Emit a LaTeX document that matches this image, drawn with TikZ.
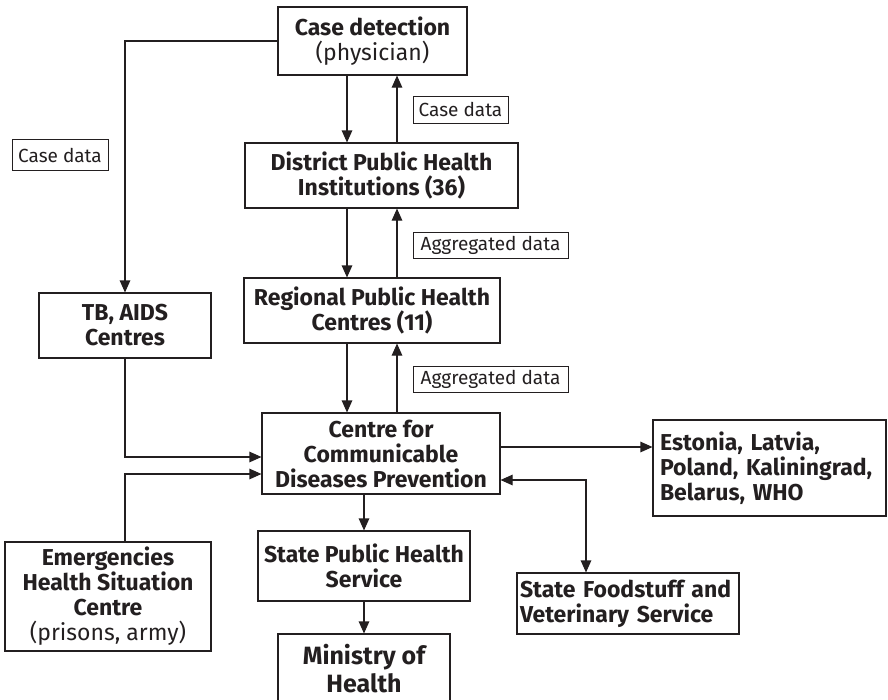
\documentclass[tikz,border=0pt]{standalone}
\usepackage{fontspec}
\setmainfont{Fira Sans}
\usetikzlibrary{arrows.meta}
\definecolor{ink}{HTML}{231F20}

\begin{document}
\begin{tikzpicture}[x=1pt,y=-1pt,
    box/.style={draw=ink, text=ink, line width=1.1pt, align=center, inner sep=0pt,
      font=\fontsize{23}{25}\selectfont\bfseries},
    tag/.style={draw=ink, text=ink, line width=0.8pt, inner sep=0pt,
      font=\fontsize{19}{20}\selectfont},
    flow/.style={draw=ink, line width=1.1pt, -{Triangle[length=12pt,width=10.5pt]}},
    duo/.style={draw=ink, line width=1.1pt, {Triangle[length=12pt,width=10.5pt]}-{Triangle[length=12pt,width=10.5pt]}}]
  \useasboundingbox (0,0) rectangle (888,699);

  % boxes
  \node[box, minimum width=189, minimum height=68] (case) at (372.5,41)
    {Case detection\\{\mdseries (physician)}};
  \node[box, minimum width=273, minimum height=65] (district) at (381.5,175.5)
    {District Public Health\\Institutions (36)};
  \node[box, minimum width=256, minimum height=65] (regional) at (372,310.5)
    {Regional Public Health\\Centres (11)};
  \node[box, minimum width=238, minimum height=81] (centre) at (381,453.5)
    {Centre for\\Communicable\\Diseases Prevention};
  \node[box, minimum width=172, minimum height=65] (tb) at (125,325.5)
    {TB, AIDS\\Centres};
  \node[box, minimum width=206, minimum height=109] (emerg) at (108,596.5)
    {Emergencies\\Health Situation\\Centre\\{\mdseries (prisons, army)}};
  \node[box, minimum width=212, minimum height=70] (sphs) at (364,566)
    {State Public Health\\Service};
  \node[box, minimum width=172, minimum height=70, font=\fontsize{25}{28}\selectfont\bfseries] (ministry) at (364,669)
    {Ministry of\\Health};
  \node[box, align=left, text width=219, minimum width=233, minimum height=96] (abroad) at (769.5,468)
    {Estonia, Latvia,\\Poland, Kaliningrad,\\Belarus, WHO};
  \node[box, align=left, text width=216, minimum width=222, minimum height=61] (food) at (628,603.5)
    {State Foodstuff and\\Veterinary Service};

  % labels
  \node[tag, minimum width=96, minimum height=31] (lcase) at (60,155) {Case data};
  \node[tag, minimum width=95, minimum height=27] (lcase2) at (460.5,109.5) {Case data};
  \node[tag, minimum width=155, minimum height=26] (lagg) at (490.5,245) {Aggregated data};
  \node[tag, minimum width=155, minimum height=26] (lagg2) at (490.5,379.5) {Aggregated data};

  % connector lanes
  \coordinate (xd) at (347,0);
  \coordinate (xu) at (397,0);
  \coordinate (xs) at (364,0);
  \coordinate (xf) at (586,0);
  \coordinate (ytb) at (0,457);
  \coordinate (yem) at (0,474);
  \coordinate (yab) at (0,447);
  \coordinate (yfo) at (0,480);

  \draw[flow] (case.west) -| (tb.north);
  \draw[flow] (case.south -| xd) -- (district.north -| xd);
  \draw[flow] (district.north -| xu) -- (case.south -| xu);
  \draw[flow] (district.south -| xd) -- (regional.north -| xd);
  \draw[flow] (regional.north -| xu) -- (district.south -| xu);
  \draw[flow] (regional.south -| xd) -- (centre.north -| xd);
  \draw[flow] (centre.north -| xu) -- (regional.south -| xu);
  \draw[flow] (tb.south) |- (centre.west |- ytb);
  \draw[flow] (emerg.north -| tb.south) |- (centre.west |- yem);
  \draw[flow] (centre.east |- yab) -- (abroad.west |- yab);
  \draw[duo] (centre.east |- yfo) -| (food.north -| xf);
  \draw[flow] (centre.south -| xs) -- (sphs.north -| xs);
  \draw[flow] (sphs.south -| xs) -- (ministry.north -| xs);
\end{tikzpicture}
\end{document}
